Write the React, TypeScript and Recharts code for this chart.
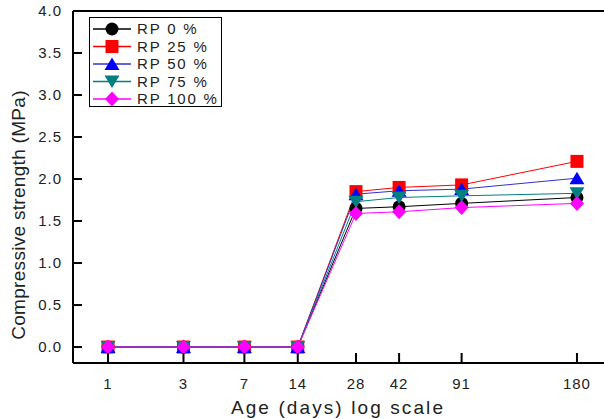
import React from "react";
import { Legend, Line, LineChart, ReferenceLine, XAxis, YAxis } from "recharts";

const DAYS = [1, 3, 7, 14, 28, 42, 91, 180];
const RP0 = [0, 0, 0, 0, 1.65, 1.67, 1.71, 1.78];
const RP25 = [0, 0, 0, 0, 1.85, 1.9, 1.93, 2.21];
const RP50 = [0, 0, 0, 0, 1.82, 1.86, 1.88, 2.01];
const RP75 = [0, 0, 0, 0, 1.73, 1.78, 1.8, 1.83];
const RP100 = [0, 0, 0, 0, 1.59, 1.61, 1.66, 1.71];
const Y_TICKS = [0, 0.5, 1, 1.5, 2, 2.5, 3, 3.5, 4];

// The original "log scale" axis isn't really logarithmic – each age sits at
// its own spot. Knots (days) -> fraction of the plot width.
const AXIS_KNOTS = [0, ...DAYS, 200];
const AXIS_FRACS = [0, 0.065, 0.205, 0.318, 0.417, 0.525, 0.605, 0.721, 0.935, 1];

const Y_MIN = -0.19;
const Y_MAX = 4;

const FONT = "'Liberation Sans', Arial, sans-serif";
const TEXT = "#222";

type Shape = "circle" | "square" | "up" | "down" | "diamond";

const SERIES: { key: string; name: string; values: number[]; line: string; fill: string; shape: Shape }[] = [
  { key: "rp0", name: "RP 0 %", values: RP0, line: "#000000", fill: "#000000", shape: "circle" },
  { key: "rp25", name: "RP 25 %", values: RP25, line: "#ff0000", fill: "#ff0000", shape: "square" },
  { key: "rp50", name: "RP 50 %", values: RP50, line: "#3030d0", fill: "#0000ff", shape: "up" },
  { key: "rp75", name: "RP 75 %", values: RP75, line: "#008080", fill: "#008080", shape: "down" },
  { key: "rp100", name: "RP 100 %", values: RP100, line: "#ff00ff", fill: "#ff00ff", shape: "diamond" },
];

const rows = DAYS.map((day, i) => {
  const row: Record<string, number> = { day };
  for (const s of SERIES) row[s.key] = s.values[i];
  return row;
});

// minimal d3-like piecewise linear scale
function knotScale(dom: number[] = [AXIS_KNOTS[0], AXIS_KNOTS[AXIS_KNOTS.length - 1]], rng: number[] = [0, 1]): any {
  const f: any = (v: number) => {
    let i = 1;
    while (i < AXIS_KNOTS.length - 1 && v > AXIS_KNOTS[i]) i++;
    const k0 = AXIS_KNOTS[i - 1];
    const k1 = AXIS_KNOTS[i];
    const t = AXIS_FRACS[i - 1] + ((AXIS_FRACS[i] - AXIS_FRACS[i - 1]) * (v - k0)) / (k1 - k0);
    return rng[0] + t * (rng[1] - rng[0]);
  };
  f.domain = (d?: number[]) => {
    if (d === undefined) return dom.slice();
    dom = d.slice();
    return f;
  };
  f.range = (r?: number[]) => {
    if (r === undefined) return rng.slice();
    rng = r.slice();
    return f;
  };
  f.copy = () => knotScale(dom.slice(), rng.slice());
  f.ticks = () => DAYS.slice();
  f.tickFormat = () => (v: number) => String(v);
  f.nice = () => f;
  f.clamp = () => f;
  return f;
}

function Marker({ cx, cy, shape, fill }: { cx: number; cy: number; shape: Shape; fill: string }) {
  if (cx == null || cy == null) return null;
  switch (shape) {
    case "circle":
      return <circle cx={cx} cy={cy} r={6.5} fill={fill} />;
    case "square":
      return <rect x={cx - 6.5} y={cy - 6.5} width={13} height={13} fill={fill} />;
    case "up":
      return <polygon points={`${cx},${cy - 6.5} ${cx + 7.5},${cy + 6} ${cx - 7.5},${cy + 6}`} fill={fill} />;
    case "down":
      return <polygon points={`${cx},${cy + 6.5} ${cx + 7.5},${cy - 6} ${cx - 7.5},${cy - 6}`} fill={fill} />;
    default:
      return <polygon points={`${cx},${cy - 7.5} ${cx + 7},${cy} ${cx},${cy + 7.5} ${cx - 7},${cy}`} fill={fill} />;
  }
}

function LegendBox() {
  return (
    <div style={{ width: 131, height: 88, border: "1.5px solid #000", background: "#fff" }}>
      <svg width={131} height={88} style={{ display: "block" }}>
        {SERIES.map((s, i) => {
          const y = 11 + i * 17.5;
          return (
            <g key={s.key}>
              <line x1={3} x2={41} y1={y} y2={y} stroke={s.line} strokeWidth={1.5} />
              <Marker cx={22} cy={y} shape={s.shape} fill={s.fill} />
              <text x={47} y={y} dy="0.36em" fontSize={15} fontFamily={FONT} fill={TEXT} letterSpacing={1.8}>
                {s.name}
              </text>
            </g>
          );
        })}
      </svg>
    </div>
  );
}

// ticks in the original point inwards: draw the mark next to each label
const X_GAP = 15;
const Y_GAP = 11;

function XTick({ x, y, payload }: any) {
  return (
    <g>
      <line x1={x} x2={x} y1={y - X_GAP} y2={y - X_GAP - 10} stroke="#000" strokeWidth={2} />
      <text x={x} y={y} dy="0.71em" textAnchor="middle" fontSize={15} fontFamily={FONT} fill={TEXT} letterSpacing={1}>
        {payload.value}
      </text>
    </g>
  );
}

function YTick({ x, y, payload }: any) {
  return (
    <g>
      <line x1={x + Y_GAP} x2={x + Y_GAP + 9} y1={y} y2={y} stroke="#000" strokeWidth={2} />
      <text x={x} y={y} dy="0.36em" textAnchor="end" fontSize={15} fontFamily={FONT} fill={TEXT} letterSpacing={1}>
        {Number(payload.value).toFixed(1)}
      </text>
    </g>
  );
}

export default function App() {
  return (
    <div style={{ position: "absolute", left: 0, top: 0, width: 604, height: 419, overflow: "hidden", background: "#fff" }}>
      <LineChart width={620} height={419} data={rows} margin={{ top: 11, right: 8, bottom: 0, left: 0 }}>
        <XAxis
          dataKey="day"
          type="number"
          scale={knotScale()}
          domain={[0, 200]}
          ticks={DAYS}
          height={56}
          axisLine={{ stroke: "#000", strokeWidth: 2 }}
          tickLine={false}
          tickSize={0}
          tickMargin={X_GAP}
          tick={<XTick />}
          label={{
            content: () => (
              <text x={338} y={414} textAnchor="middle" fontSize={19} fontFamily={FONT} fill={TEXT} letterSpacing={2.1}>
                Age (days) log scale
              </text>
            ),
          }}
        />
        <YAxis
          type="number"
          domain={[Y_MIN, Y_MAX]}
          ticks={Y_TICKS}
          width={73}
          axisLine={{ stroke: "#000", strokeWidth: 2 }}
          tickLine={false}
          tickSize={0}
          tickMargin={Y_GAP}
          tick={<YTick />}
          label={{
            content: () => (
              <text x={25} y={215} transform="rotate(-90 25 215)" textAnchor="middle" fontSize={19} fontFamily={FONT} fill={TEXT} letterSpacing={0.3}>
                Compressive strength (MPa)
              </text>
            ),
          }}
        />
        <ReferenceLine y={Y_MAX} stroke="#000" strokeWidth={2} />
        <Legend
          layout="vertical"
          align="center"
          verticalAlign="middle"
          wrapperStyle={{ left: 89, top: 17, width: 134 }}
          content={() => <LegendBox />}
        />
        {SERIES.map((s) => (
          <Line
            key={s.key}
            dataKey={s.key}
            name={s.name}
            stroke={s.line}
            strokeWidth={1}
            isAnimationActive={false}
            dot={(p: any) => <Marker key={`${s.key}-${p.index}`} cx={p.cx} cy={p.cy} shape={s.shape} fill={s.fill} />}
            activeDot={false}
          />
        ))}
      </LineChart>
    </div>
  );
}
